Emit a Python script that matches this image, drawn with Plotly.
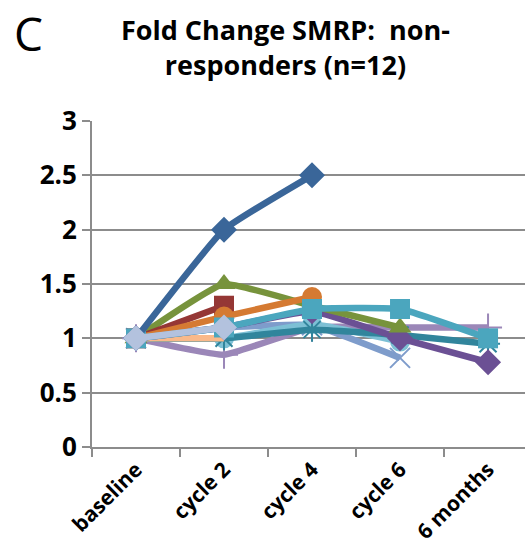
import plotly.graph_objects as go

categories = ["baseline", "cycle 2", "cycle 4", "cycle 6", "6 months"]

# series values (fold change), None = missing
s_blue = [1.0, 2.0, 2.5, None, None]
s_red = [1.0, 1.3, None, None, None]
s_green = [1.0, 1.5, 1.3, 1.1, None]
s_lightblue_x = [1.0, 1.1, 1.12, 0.82, None]
s_teal_star = [1.0, 1.0, 1.08, 1.03, 0.95]
s_orange = [1.0, 1.2, 1.38, None, None]
s_purple_plus = [1.0, 0.85, 1.1, 1.1, 1.1]
s_darkpurple = [1.0, 1.1, 1.25, 1.0, 0.78]
s_aqua = [1.0, 1.1, 1.27, 1.27, 1.0]
s_peach = [1.0, 1.0, None, None, None]
s_lavender = [1.0, 1.1, None, None, None]
s_lightaqua = [1.0, 1.0, 1.13, 0.97, None]

y_ticks = [0, 0.5, 1, 1.5, 2, 2.5, 3]
y_ticklabels = ["0", "0.5", "1", "1.5", "2", "2.5", "3"]

series = [
    (s_purple_plus, "#9B87B8", "cross-thin-open", 2, True),
    (s_lightblue_x, "#7E9CCB", "x-thin-open", 2, True),
    (s_lightaqua, "#7DC0D5", "circle", 0, True),
    (s_teal_star, "#31859C", "asterisk-open", 2, True),
    (s_peach, "#F9B98A", "square", 0, False),
    (s_darkpurple, "#6B5094", "diamond", 0, True),
    (s_green, "#77933C", "triangle-up", 0, True),
    (s_red, "#953735", "square", 0, True),
    (s_orange, "#D57A32", "circle", 0, True),
    (s_aqua, "#4BA6BE", "square", 0, True),
    (s_blue, "#3A6699", "diamond", 0, True),
    (s_lavender, "#B3C2DE", "diamond", 0, True),
]

fig = go.Figure()
for vals, col, sym, lw, show_mk in series:
    mk = dict(symbol=sym, size=20, color=col)
    if lw:
        mk["line"] = dict(color=col, width=lw)
    else:
        mk["line"] = dict(width=0)
    fig.add_trace(go.Scatter(
        x=categories, y=vals, mode="lines+markers" if show_mk else "lines",
        line=dict(color=col, width=6.5, shape="spline", smoothing=0.35),
        marker=mk, connectgaps=False, showlegend=False, hoverinfo="skip",
    ))

plot_h = 555 - 121 - 108
plot_w = 525 - 92

fig.update_layout(
    width=525, height=555,
    margin=dict(l=92, r=0, t=121, b=108),
    paper_bgcolor="white", plot_bgcolor="white",
    font=dict(family="Open Sans", color="black"),
    xaxis=dict(
        type="category", range=[-0.5, 4.42],
        tickangle=-45, ticks="outside", tickson="boundaries", ticklen=8,
        tickwidth=2, tickcolor="#8C8C8C", showgrid=False, zeroline=False,
        showline=True, linecolor="#8C8C8C", linewidth=2,
        tickfont=dict(size=21, family="Open Sans", weight="bold"),
    ),
    yaxis=dict(
        range=[0, 3], tickvals=y_ticks, ticktext=y_ticklabels,
        showgrid=True, gridcolor="#8C8C8C", gridwidth=2, zeroline=False,
        showline=True, linecolor="#8C8C8C", linewidth=2,
        ticks="outside", ticklen=8, tickwidth=2, tickcolor="#8C8C8C",
        tickfont=dict(size=26, family="Open Sans", weight="bold"),
    ),
    annotations=[
        dict(text="C", x=(28 - 92) / plot_w, y=(447 - 33) / plot_h,
             xref="paper", yref="paper", showarrow=False,
             xanchor="center", yanchor="middle",
             font=dict(size=46, family="Open Sans")),
        dict(text="Fold Change SMRP:  non-<br>responders (n=12)",
             x=(285 - 92) / plot_w, y=(447 - 47) / plot_h,
             xref="paper", yref="paper", showarrow=False, align="center",
             xanchor="center", yanchor="middle",
             font=dict(size=27, family="Open Sans", weight="bold")),
    ],
)
fig.write_html("out.html")
